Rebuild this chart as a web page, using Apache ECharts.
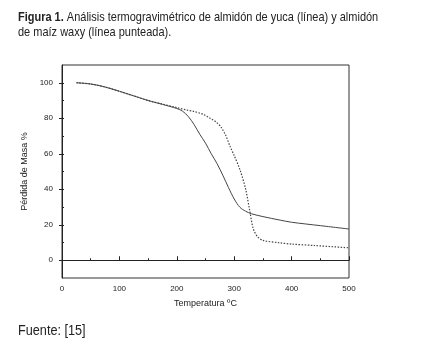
<!DOCTYPE html>
<html>
<head>
<meta charset="utf-8">
<script src="https://cdn.jsdelivr.net/npm/echarts@6/dist/echarts.min.js"></script>
<style>
  html, body { margin: 0; padding: 0; background: #fff; }
  #chart { width: 440px; height: 347px; }
</style>
</head>
<body>
<div id="chart"></div>
<script>
  // almidón de yuca (línea continua) - [temperatura, masa %]
  const yucaData = [
    [25, 100], [50, 99.3], [75, 97.6], [100, 95.2], [125, 92.6], [150, 90], [175, 87.8],
    [200, 85.5], [210, 84], [220, 81], [230, 76.5], [240, 71], [250, 66], [260, 60],
    [270, 54.5], [280, 48], [290, 41], [300, 34.5], [310, 29.8], [320, 27.6], [330, 26.2],
    [350, 24.6], [380, 22.6], [400, 21.4], [450, 19.5], [500, 17.6]
  ]
  // almidón de maíz waxy (línea punteada)
  const waxyData = [
    [25, 100], [50, 99.3], [75, 97.6], [100, 95.2], [125, 92.6], [150, 90], [175, 88],
    [200, 86], [215, 84.8], [230, 83.8], [245, 82.3], [258, 80], [268, 78], [277, 75],
    [285, 70.5], [293, 64], [300, 59], [310, 51], [320, 40], [327, 28], [333, 18],
    [340, 13.5], [350, 11.2], [380, 9.8], [400, 9.1], [440, 8.3], [500, 7]
  ]
  const yLabels = [0, 20, 40, 60, 80, 100]
  const yMinorTicks = [0, 10, 20, 30, 40, 50, 60, 70, 80, 90, 100]

  const lineColor = '#444'
  const axisFont = { fontFamily: 'Liberation Sans', fontSize: 8, color: '#222' }
  // no hay fuente "narrow" instalada: se comprime Liberation Sans en horizontal
  const narrow = 0.845

  const chart = echarts.init(document.getElementById('chart'))
  chart.setOption({
    animation: false,
    graphic: [{
      type: 'text',
      x: 18,
      y: 10,
      scaleX: narrow,
      style: {
        text: '{b|Figura 1.} Análisis termogravimétrico de almidón de yuca (línea) y almidón\nde maíz waxy (línea punteada).',
        font: '13px "Liberation Sans"',
        fill: '#222',
        lineHeight: 15,
        rich: {
          b: { font: 'bold 13px "Liberation Sans"', fill: '#222' }
        }
      }
    }, {
      type: 'text',
      x: 18,
      y: 323,
      scaleX: narrow,
      style: {
        text: 'Fuente: [15]',
        font: '15px "Liberation Sans"',
        fill: '#222'
      }
    }],
    grid: {
      left: 62,
      right: 91,
      top: 65,
      bottom: 69,
      show: true,
      borderColor: '#333',
      borderWidth: 1
    },
    xAxis: {
      type: 'value',
      min: 0,
      max: 500,
      interval: 100,
      name: 'Temperatura ºC',
      nameLocation: 'middle',
      nameGap: 21,
      nameTextStyle: { fontFamily: 'Liberation Sans', fontSize: 9, color: '#222' },
      axisLine: { lineStyle: { color: '#222', width: 1 } },
      axisTick: { inside: true, length: 4, lineStyle: { color: '#222' } },
      minorTick: { show: true, splitNumber: 2, length: 2, lineStyle: { color: '#222' } },
      axisLabel: Object.assign({ margin: 7 }, axisFont),
      splitLine: { show: false }
    },
    yAxis: [{
      type: 'value',
      min: -10,
      max: 110,
      name: 'Pérdida de Masa %',
      nameLocation: 'middle',
      nameGap: 30,
      nameTextStyle: { fontFamily: 'Liberation Sans', fontSize: 9, color: '#222' },
      axisLine: { show: true, lineStyle: { color: '#222', width: 1 } },
      axisTick: { show: true, length: 3, customValues: yLabels, lineStyle: { color: '#222' } },
      axisLabel: Object.assign({ margin: 9, customValues: yLabels }, axisFont),
      splitLine: { show: false }
    }, {
      type: 'value',
      position: 'left',
      min: -10,
      max: 110,
      axisLine: { show: false },
      axisTick: { show: true, inside: true, length: 2, customValues: yMinorTicks, lineStyle: { color: '#222' } },
      axisLabel: { show: false },
      splitLine: { show: false }
    }],
    series: [{
      name: 'yuca',
      type: 'line',
      data: yucaData,
      smooth: 0.3,
      showSymbol: false,
      lineStyle: { color: lineColor, width: 1 }
    }, {
      name: 'waxy',
      type: 'line',
      data: waxyData,
      smooth: 0.3,
      showSymbol: false,
      lineStyle: { color: lineColor, width: 1.2, type: [1.5, 1.5] }
    }]
  })
</script>
</body>
</html>
